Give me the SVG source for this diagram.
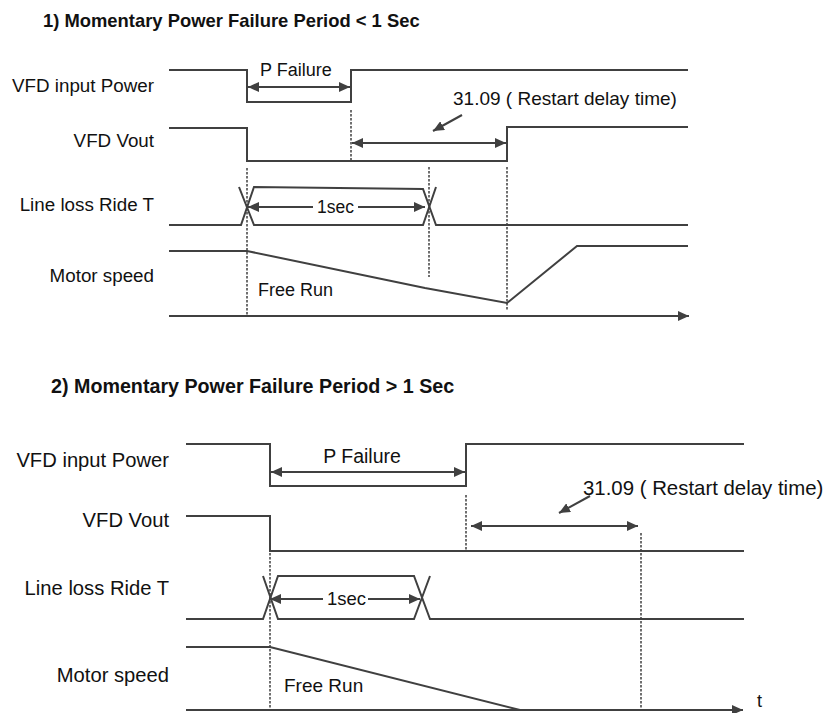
<svg xmlns="http://www.w3.org/2000/svg" width="826" height="713" viewBox="0 0 826 713">
<defs>
<marker id="ah" markerUnits="userSpaceOnUse" markerWidth="12" markerHeight="10" refX="11" refY="5" orient="auto-start-reverse">
<path d="M0,0 L11,5 L0,10 Z" fill="#404040"/>
</marker>
<style>
text{font-family:"Liberation Sans",Arial,sans-serif;fill:#111}
.t1{font-size:18.4px;font-weight:bold}
.t2{font-size:19.7px;font-weight:bold}
.l1{font-size:18.8px;text-anchor:end}
.l2{font-size:20.2px;text-anchor:end}
.s1{font-size:18px}
.s2{font-size:19.5px}
.sig{fill:none;stroke:#404040;stroke-width:2;stroke-linejoin:miter}
.dash{fill:none;stroke:#404040;stroke-width:1.5;stroke-dasharray:2.5 1.5}
.arr{fill:none;stroke:#404040;stroke-width:2}
</style>
</defs>
<rect width="826" height="713" fill="#fff"/>

<!-- Section 1 -->
<g id="section1">
<text class="t1" x="43" y="27">1) Momentary Power Failure Period &lt; 1 Sec</text>
<g id="s1-input-power">
<text class="l1" x="154" y="92">VFD input Power</text>
<polyline class="sig" points="169,70 247,70 247,102 351,102 351,70 688,70"/>
<text class="s1" x="260" y="76">P Failure</text>
</g>
<g id="s1-vout">
<text class="l1" x="154" y="147">VFD Vout</text>
<polyline class="sig" points="169,128 247,128 247,161 507,161 507,127 688,127"/>
<text class="s1" x="453" y="105" style="font-size:19px">31.09 ( Restart delay time)</text>
</g>
<g id="s1-lineloss">
<text class="l1" x="154" y="211">Line loss Ride T</text>
<polyline class="sig" points="169,225 241,225 254,187 423,189 436,225 688,225"/>
<polyline class="sig" points="239,187 254,225 423,225 436,187"/>
<text class="s1" x="335.5" y="213" text-anchor="middle" style="font-size:17.5px">1sec</text>
</g>
<g id="s1-motor">
<text class="l1" x="154" y="282">Motor speed</text>
<polyline class="sig" points="169,251 247,251 425,288 507,303 577,246 688,246"/>
<text class="s1" x="258" y="296">Free Run</text>
</g>
</g>

<!-- Section 2 -->
<g id="section2">
<text class="t2" x="51" y="393">2) Momentary Power Failure Period &gt; 1 Sec</text>
<g id="s2-input-power">
<text class="l2" x="169" y="467">VFD input Power</text>
<polyline class="sig" points="186,444 270,444 270,486 466,486 466,444 744,444"/>
<text class="s2" x="362" y="463" text-anchor="middle">P Failure</text>
</g>
<g id="s2-vout">
<text class="l2" x="169" y="527">VFD Vout</text>
<polyline class="sig" points="186,516 270,516 270,551 744,551"/>
<text class="s2" x="583" y="495" style="font-size:20.4px">31.09 ( Restart delay time)</text>
</g>
<g id="s2-lineloss">
<text class="l2" x="169" y="595">Line loss Ride T</text>
<polyline class="sig" points="186,619 263,619 278,576 414,576 430,619 744,619"/>
<polyline class="sig" points="263,576 278,619 414,619 430,576"/>
<text class="s2" x="346.5" y="605" text-anchor="middle" style="font-size:18.5px">1sec</text>
</g>
<g id="s2-motor">
<text class="l2" x="169" y="682">Motor speed</text>
<polyline class="sig" points="186,647 270,647 520,710"/>
<text class="s2" x="284" y="692" style="font-size:19px">Free Run</text>
</g>
<text class="s2" x="757" y="707" style="font-size:18px">t</text>
</g>

<!-- Connectors: arrows, axes, dashed guides -->
<g id="connectors">
<line class="arr" x1="169" y1="316" x2="689" y2="316" marker-end="url(#ah)"/>
<line class="arr" x1="186" y1="710" x2="743" y2="710" marker-end="url(#ah)"/>

<line class="arr" x1="248" y1="87" x2="350" y2="87" marker-start="url(#ah)" marker-end="url(#ah)"/>
<line class="arr" x1="352" y1="143" x2="506" y2="143" marker-start="url(#ah)" marker-end="url(#ah)"/>
<line class="arr" x1="462" y1="115" x2="433" y2="131" marker-end="url(#ah)"/>
<line class="arr" x1="248" y1="207" x2="313" y2="207" marker-start="url(#ah)"/>
<line class="arr" x1="358" y1="207" x2="425" y2="207" marker-end="url(#ah)"/>

<line class="arr" x1="271" y1="472" x2="465" y2="472" marker-start="url(#ah)" marker-end="url(#ah)"/>
<line class="arr" x1="471" y1="526" x2="638" y2="526" marker-start="url(#ah)" marker-end="url(#ah)"/>
<line class="arr" x1="590" y1="496" x2="559" y2="513" marker-end="url(#ah)"/>
<line class="arr" x1="270" y1="599" x2="323" y2="599" marker-start="url(#ah)"/>
<line class="arr" x1="368" y1="599" x2="420" y2="599" marker-end="url(#ah)"/>

<line class="dash" x1="247" y1="168" x2="247" y2="316"/>
<line class="dash" x1="351" y1="110" x2="351" y2="161"/>
<line class="dash" x1="429" y1="167" x2="429" y2="277"/>
<line class="dash" x1="507" y1="167" x2="507" y2="310"/>

<line class="dash" x1="270" y1="553" x2="270" y2="710"/>
<line class="dash" x1="466" y1="495" x2="466" y2="551"/>
<line class="dash" x1="641" y1="533" x2="641" y2="710"/>
</g>
</svg>
